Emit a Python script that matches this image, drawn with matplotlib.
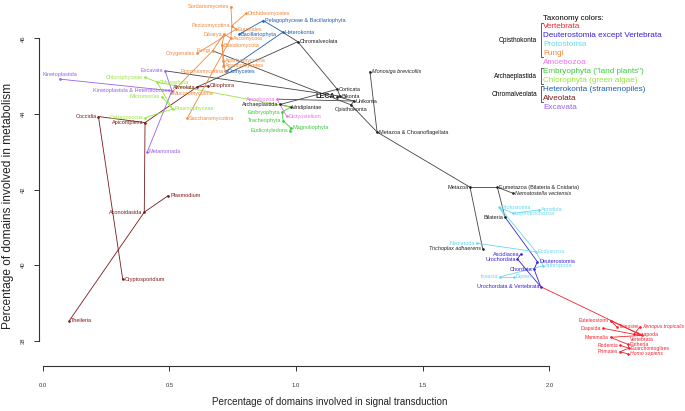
import matplotlib
matplotlib.use("Agg")
import matplotlib.pyplot as plt

plt.rcParams['font.family'] = ['Liberation Sans', 'DejaVu Sans']

# ---------------- data ----------------
group_colors = {
    'K': '#222222', 'VE': '#F5222E', 'DE': '#3A22D0', 'PR': '#66DAF0',
    'FU': '#F2883C', 'AM': '#F070F0', 'EM': '#3ACB3A', 'CH': '#94E63A',
    'HE': '#2060B0', 'AL': '#7A1A1A', 'EX': '#9A60EA',
}

node_names = [
    'LECA', 'Bikonta', 'Unikonta', 'Corticata', 'Chromalveolata', 'Archaeplastida',
    'Viridiplantae', 'Opisthokonta', 'Metazoa & Choanoflagellata', 'Monosiga brevicollis',
    'Metazoa', 'Eumetazoa (Bilateria & Cnidaria)', 'Nematostella vectensis', 'Bilateria',
    'Trichoplax adhaerens',
    'Alveolata', 'Ciliophora', 'Apicomplexa', 'Coccidia', 'Aconoidasida', 'Plasmodium',
    'Cryptosporidium', 'Theileria',
    'Excavata', 'Kinetoplastida & Heterolobosea', 'Kinetoplastida', 'Metamonada',
    'Chlorophyta', 'Chlorophyceae', 'Prasinophyceae', 'Micromonas', 'Ostreococcus',
    'Embryophyta', 'Tracheophyta', 'Magnoliophyta', 'Eudicotyledons',
    'Heterokonta', 'Pelagophyceae & Bacillariophyta', 'Bacillariophyta', 'Oomycetes',
    'Amoebozoa', 'Dictyostelium',
    'Fungi', 'Dikarya', 'Ascomycota', 'Pezizomycotina', 'Sordariomycetes', 'Dothideomycetes',
    'Eurotiales', 'Onygenales', 'Saccharomycotina', 'Basidiomycota', 'Agaricomycotina',
    'Agaricomycetes', 'Pucciniomycotina', 'Mucoromycotina',
    'Protostomia', 'Lophotrochozoa', 'Annelida', 'Ecdysozoa', 'Nematoda', 'Arthropoda',
    'Insecta', 'Diptera',
    'Deuterostomia', 'Chordata', 'Urochordata & Vertebrata', 'Urochordata', 'Ascidiacea',
    'Vertebrata', 'Euteleostomi', 'Diapsida', 'Teleostei', 'Tetrapoda', 'Xenopus tropicalis',
    'Mammalia', 'Eutheria', 'Rodentia', 'Euarchontoglires', 'Primates', 'Homo sapiens',
]
node_x = [
    1.162, 1.174, 1.229, 1.163, 1.007, 0.937,
    0.979, 1.217, 1.320, 1.292,
    1.687, 1.795, 1.857, 1.825,
    1.737,
    0.609, 0.653, 0.404, 0.220, 0.401, 0.496,
    0.316, 0.105,
    0.483, 0.510, 0.068, 0.413,
    0.451, 0.404, 0.513, 0.470, 0.404,
    0.945, 0.949, 0.979, 0.976,
    0.948, 0.871, 0.776, 0.724,
    0.925, 0.963,
    0.671, 0.716, 0.743, 0.747, 0.743, 0.803,
    0.763, 0.609, 0.570, 0.708, 0.712,
    0.712, 0.720, 0.506,
    1.803, 1.858, 1.961, 1.948, 1.713, 1.976,
    1.805, 1.861,
    1.953, 1.940, 1.966, 1.874, 1.887,
    2.366, 2.242, 2.211, 2.266, 2.334, 2.358,
    2.242, 2.311, 2.279, 2.315, 2.279, 2.311,
]
node_y = [
    44.46, 44.47, 44.34, 44.65, 45.91, 44.25,
    44.18, 44.24, 43.52, 45.12,
    42.06, 42.06, 41.90, 41.27,
    40.43,
    44.71, 44.74, 43.77, 43.93, 41.40, 41.84,
    39.62, 38.53,
    45.14, 44.61, 44.92, 43.00,
    44.84, 44.97, 44.13, 44.46, 43.90,
    44.05, 43.82, 43.63, 43.55,
    46.16, 46.47, 46.11, 45.13,
    44.39, 43.94,
    45.67, 46.11, 46.00, 46.33, 46.84, 46.66,
    46.24, 45.60, 43.88, 45.82, 45.41,
    45.27, 45.13, 44.54,
    41.53, 41.37, 41.46, 40.35, 40.58, 39.98,
    39.69, 39.69,
    40.09, 39.89, 39.43, 40.16, 40.29,
    38.14, 38.53, 38.33, 38.37, 38.17, 38.37,
    38.09, 37.90, 37.88, 37.80, 37.71, 37.65,
]
node_group = [
    'K', 'K', 'K', 'K', 'K', 'K',
    'K', 'K', 'K', 'K',
    'K', 'K', 'K', 'K',
    'K',
    'AL', 'AL', 'AL', 'AL', 'AL', 'AL',
    'AL', 'AL',
    'EX', 'EX', 'EX', 'EX',
    'CH', 'CH', 'CH', 'CH', 'CH',
    'EM', 'EM', 'EM', 'EM',
    'HE', 'HE', 'HE', 'HE',
    'AM', 'AM',
    'FU', 'FU', 'FU', 'FU', 'FU', 'FU',
    'FU', 'FU', 'FU', 'FU', 'FU',
    'FU', 'FU', 'FU',
    'PR', 'PR', 'PR', 'PR', 'PR', 'PR',
    'PR', 'PR',
    'DE', 'DE', 'DE', 'DE', 'DE',
    'VE', 'VE', 'VE', 'VE', 'VE', 'VE',
    'VE', 'VE', 'VE', 'VE', 'VE', 'VE',
]
label_side = [
    'L', 'R', 'R', 'R', 'R', 'L',
    'R', 'B', 'R', 'R',
    'L', 'R', 'R', 'L',
    'L',
    'L', 'R', 'L', 'L', 'L', 'R',
    'R', 'R',
    'L', 'L', 'T', 'R',
    'R', 'L', 'R', 'L', 'L',
    'L', 'L', 'R', 'L',
    'R', 'R', 'R', 'R',
    'L', 'R',
    'L', 'L', 'R', 'L', 'L', 'R',
    'R', 'L', 'R', 'R', 'R',
    'R', 'L', 'R',
    'R', 'R', 'R', 'R', 'L', 'R',
    'L', 'R',
    'R', 'L', 'L', 'L', 'L',
    'B', 'L', 'L', 'R', 'R', 'R',
    'L', 'R', 'L', 'R', 'L', 'R',
]
italic_names = ['Monosiga brevicollis', 'Nematostella vectensis', 'Trichoplax adhaerens',
                'Xenopus tropicalis', 'Homo sapiens']
# black internal nodes whose outgoing branches still take the child's colour
colored_parents = ['Viridiplantae', 'Bilateria']

edge_parent = [
    'LECA', 'LECA', 'Bikonta', 'Bikonta', 'Corticata', 'Corticata',
    'Chromalveolata', 'Chromalveolata', 'Archaeplastida', 'Unikonta', 'Unikonta',
    'Opisthokonta', 'Opisthokonta', 'Metazoa & Choanoflagellata', 'Metazoa & Choanoflagellata',
    'Metazoa', 'Metazoa', 'Eumetazoa (Bilateria & Cnidaria)', 'Eumetazoa (Bilateria & Cnidaria)',
    'Bilateria', 'Bilateria',
    'Alveolata', 'Alveolata', 'Apicomplexa', 'Apicomplexa', 'Coccidia', 'Aconoidasida', 'Aconoidasida',
    'Excavata', 'Kinetoplastida & Heterolobosea', 'Kinetoplastida & Heterolobosea',
    'Viridiplantae', 'Chlorophyta', 'Chlorophyta', 'Prasinophyceae', 'Prasinophyceae',
    'Viridiplantae', 'Embryophyta', 'Tracheophyta', 'Magnoliophyta',
    'Heterokonta', 'Pelagophyceae & Bacillariophyta', 'Heterokonta',
    'Amoebozoa',
    'Fungi', 'Dikarya', 'Dikarya', 'Ascomycota', 'Ascomycota', 'Pezizomycotina', 'Pezizomycotina',
    'Pezizomycotina', 'Eurotiales', 'Basidiomycota', 'Agaricomycotina', 'Basidiomycota', 'Fungi',
    'Protostomia', 'Lophotrochozoa', 'Protostomia', 'Ecdysozoa', 'Ecdysozoa', 'Arthropoda', 'Insecta',
    'Deuterostomia', 'Chordata', 'Urochordata & Vertebrata', 'Urochordata',
    'Urochordata & Vertebrata', 'Vertebrata', 'Vertebrata', 'Euteleostomi', 'Vertebrata', 'Tetrapoda',
    'Tetrapoda', 'Mammalia', 'Eutheria', 'Euarchontoglires', 'Euarchontoglires', 'Primates',
]
edge_child = [
    'Bikonta', 'Unikonta', 'Corticata', 'Excavata', 'Archaeplastida', 'Chromalveolata',
    'Heterokonta', 'Alveolata', 'Viridiplantae', 'Amoebozoa', 'Opisthokonta',
    'Fungi', 'Metazoa & Choanoflagellata', 'Monosiga brevicollis', 'Metazoa',
    'Eumetazoa (Bilateria & Cnidaria)', 'Trichoplax adhaerens', 'Nematostella vectensis', 'Bilateria',
    'Protostomia', 'Deuterostomia',
    'Ciliophora', 'Apicomplexa', 'Coccidia', 'Aconoidasida', 'Cryptosporidium', 'Plasmodium', 'Theileria',
    'Kinetoplastida & Heterolobosea', 'Kinetoplastida', 'Metamonada',
    'Chlorophyta', 'Chlorophyceae', 'Prasinophyceae', 'Micromonas', 'Ostreococcus',
    'Embryophyta', 'Tracheophyta', 'Magnoliophyta', 'Eudicotyledons',
    'Pelagophyceae & Bacillariophyta', 'Bacillariophyta', 'Oomycetes',
    'Dictyostelium',
    'Dikarya', 'Ascomycota', 'Basidiomycota', 'Pezizomycotina', 'Saccharomycotina', 'Sordariomycetes',
    'Dothideomycetes', 'Eurotiales', 'Onygenales', 'Agaricomycotina', 'Agaricomycetes',
    'Pucciniomycotina', 'Mucoromycotina',
    'Lophotrochozoa', 'Annelida', 'Ecdysozoa', 'Nematoda', 'Arthropoda', 'Insecta', 'Diptera',
    'Chordata', 'Urochordata & Vertebrata', 'Urochordata', 'Ascidiacea',
    'Vertebrata', 'Euteleostomi', 'Tetrapoda', 'Teleostei', 'Mammalia', 'Diapsida',
    'Xenopus tropicalis', 'Eutheria', 'Euarchontoglires', 'Rodentia', 'Primates', 'Homo sapiens',
]

legend_labels = ['Vertebrata', 'Deuterostomia except Vertebrata', 'Protostomia', 'Fungi',
                 'Amoebozoa', 'Embryophyta ("land plants")', 'Chlorophyta (green algae)',
                 'Heterokonta (stramenopiles)', 'Alveolata', 'Excavata']
legend_groups = ['VE', 'DE', 'PR', 'FU', 'AM', 'EM', 'CH', 'HE', 'AL', 'EX']
bracket_labels = ['Opisthokonta', 'Archaeplastida', 'Chromalveolata']
bracket_span = [(0, 3), (5, 6), (7, 8)]

x_ticks = [0.0, 0.5, 1.0, 1.5, 2.0]
x_ticklabels = ['0.0', '0.5', '1.0', '1.5', '2.0']
y_ticks = [38, 40, 42, 44, 46]
y_ticklabels = ['38', '40', '42', '44', '46']

# ---------------- figure ----------------
W, H = 685, 411
fig = plt.figure(figsize=(W / 100, H / 100), dpi=100)
ax = fig.add_axes([42.7 / W, (H - 340.7) / H, 506.6 / W, 302.4 / H])
ax.set_xlim(0, 2)
ax.set_ylim(38, 46)

for s in ['top', 'right']:
    ax.spines[s].set_visible(False)
axis_col = '#333333'
ax.spines['left'].set_position(('outward', 2.4))
ax.spines['left'].set_bounds(38, 46)
ax.spines['bottom'].set_position(('outward', 18.2))
ax.spines['bottom'].set_bounds(0, 2)
for s in ['left', 'bottom']:
    ax.spines[s].set_color(axis_col)
    ax.spines[s].set_linewidth(0.8)
ax.set_xticks(x_ticks)
ax.set_xticklabels(x_ticklabels)
ax.set_yticks(y_ticks)
ax.set_yticklabels(y_ticklabels)
ax.tick_params(axis='both', direction='out', length=3.8, width=0.7, colors=axis_col,
               labelsize=4.2)
ax.tick_params(axis='x', pad=8.5)
ax.tick_params(axis='y', pad=6.0)
for t in ax.get_yticklabels():
    t.set_rotation(90)
    t.set_va('center')
    t.set_ha('right')

pos = {n: (x, y) for n, x, y in zip(node_names, node_x, node_y)}
grp = dict(zip(node_names, node_group))

# edges
for p, c in zip(edge_parent, edge_child):
    if grp[p] == 'K' and p not in colored_parents:
        col = '#444444'
    elif grp[c] == 'K':
        col = '#444444'
    else:
        col = group_colors[grp[c]]
    ax.plot([pos[p][0], pos[c][0]], [pos[p][1], pos[c][1]], color=col, lw=0.6,
            clip_on=False, solid_capstyle='round', zorder=2)

# nodes and labels
off = {'L': (-1.2, 0), 'R': (1.2, 0), 'T': (0, 1.5), 'B': (0, -1.3)}
ha = {'L': 'right', 'R': 'left', 'T': 'center', 'B': 'center'}
va = {'L': 'center', 'R': 'center', 'T': 'bottom', 'B': 'top'}
for n, x, y, g, sd in zip(node_names, node_x, node_y, node_group, label_side):
    col = group_colors[g]
    ax.plot([x], [y], 'o', ms=0.9, color=col, clip_on=False, zorder=3)
    fs = 4.0
    weight = 'normal'
    if n == 'LECA':
        fs = 5.2
        weight = 'bold'
    if g == 'VE':
        fs = 3.7
    ax.annotate(n, (x, y), xytext=off[sd], textcoords='offset points',
                ha=ha[sd], va=va[sd], fontsize=fs, color=col, fontweight=weight,
                fontstyle='italic' if n in italic_names else 'normal',
                annotation_clip=False, zorder=4)

# axis titles
fig.text(330 / W, 1 - 402 / H, 'Percentage of domains involved in signal transduction',
         ha='center', va='center', fontsize=7.1, color='#222222')
fig.text(8 / W, 1 - 206 / H, 'Percentage of domains involved in metabolism',
         ha='center', va='center', rotation=90, fontsize=8.6, color='#222222')

# legend
lx = 543 / W
fig.text(lx, 1 - 18.3 / H, 'Taxonomy colors:', ha='left', va='center', fontsize=5.6,
         color='black')
ys = [26.7 + 9.0 * i for i in range(len(legend_labels))]
for lab, g, yy in zip(legend_labels, legend_groups, ys):
    fig.text(lx, 1 - yy / H, lab, ha='left', va='center', fontsize=5.9,
             color=group_colors[g])
for lab, (i0, i1) in zip(bracket_labels, bracket_span):
    y0 = ys[i0] - 3.5
    y1 = ys[i1] + 3.5
    bx = 540.5
    fig.lines.append(plt.Line2D([(bx + 2) / W, bx / W, bx / W, (bx + 2) / W],
                                [1 - y0 / H, 1 - y0 / H, 1 - y1 / H, 1 - y1 / H],
                                transform=fig.transFigure, color='#444444', lw=0.6))
    fig.text(537 / W, 1 - (ys[i0] + ys[i1]) / 2 / H, lab, ha='right', va='center',
             fontsize=4.7, color='black')

fig.savefig('out.png', dpi=100)
